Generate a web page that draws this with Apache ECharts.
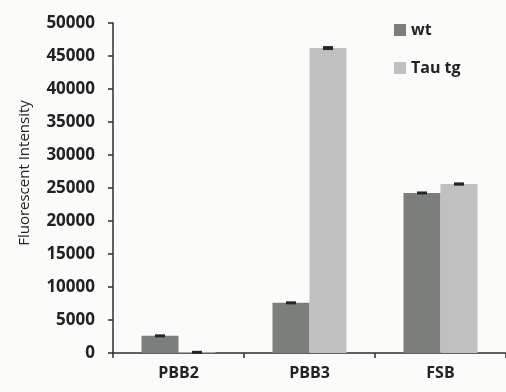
<!DOCTYPE html>
<html><head><meta charset="utf-8">
<script src="https://cdn.jsdelivr.net/npm/echarts@6/dist/echarts.min.js"></script>
<style>html,body{margin:0;padding:0;background:#fbfbf9;}#c{width:506px;height:392px;}</style>
</head><body><div id="c"></div>
<script>
var categories = ['PBB2', 'PBB3', 'FSB'];
var seriesNames = ['wt', 'Tau tg'];
var wtValues = [2600, 7600, 24250];
var tauValues = [100, 46200, 25600];
var wtErrors = [200, 150, 200];
var tauErrors = [80, 300, 250];
var yTicks = [0, 5000, 10000, 15000, 20000, 25000, 30000, 35000, 40000, 45000, 50000];

var chart = echarts.init(document.getElementById('c'));
var font = 'Open Sans';
var barW = 37;

function errSeries(values, errors, offset) {
  return {
    type: 'custom', silent: true, z: 5,
    data: values.map(function (v, i) { return [i, v, errors[i]]; }),
    renderItem: function (params, api) {
      var c = api.coord([api.value(0), api.value(1) + api.value(2)]);
      var c2 = api.coord([api.value(0), api.value(1) - api.value(2)]);
      var h = Math.max(3, c2[1] - c[1]);
      var cy = (c[1] + c2[1]) / 2;
      return { type: 'rect', shape: { x: c[0] + offset - 5, y: cy - h / 2, width: 10, height: h },
               style: { fill: '#1e2a2a' } };
    }
  };
}

chart.setOption({
  backgroundColor: '#fbfbf9',
  animation: false,
  grid: { left: 113, right: 0, top: 23, bottom: 39 },
  legend: {
    orient: 'vertical', left: 389, top: 17, itemWidth: 12, itemHeight: 12, itemGap: 22,
    icon: 'rect',
    textStyle: { fontFamily: font, fontSize: 16, fontWeight: 'bold', color: '#222', lineHeight: 12 },
    data: seriesNames
  },
  xAxis: {
    type: 'category', data: categories,
    axisLine: { lineStyle: { color: '#2a2f2f', width: 1.5 } },
    axisTick: { show: true, length: 5, lineStyle: { color: '#2a2f2f', width: 1.5 } },
    axisLabel: { fontFamily: font, fontSize: 16, fontWeight: 'bold', color: '#222', margin: 12 }
  },
  yAxis: {
    type: 'value', min: 0, max: 50000, interval: 5000,
    axisLine: { show: true, lineStyle: { color: '#2a2f2f', width: 1.5 } },
    axisTick: { show: true, length: 5, lineStyle: { color: '#2a2f2f', width: 1.5 } },
    splitLine: { show: false },
    axisLabel: { fontFamily: font, fontSize: 17, fontWeight: 'bold', color: '#222', margin: 18,
      formatter: function (v) { return yTicks.indexOf(v) >= 0 ? String(v) : ''; } }
  },
  graphic: [{
    type: 'text', x: 25, y: 173, rotation: Math.PI / 2,
    style: { text: 'Fluorescent Intensity', fontFamily: font, fontSize: 15, fill: '#222',
             textAlign: 'center', textVerticalAlign: 'middle' }
  }],
  series: [
    { name: seriesNames[0], type: 'bar', data: wtValues, barWidth: barW, barGap: '0%',
      itemStyle: { color: '#7c7e7c' } },
    { name: seriesNames[1], type: 'bar', data: tauValues, barWidth: barW, barGap: '0%',
      itemStyle: { color: '#bfc0bf' } },
    errSeries(wtValues, wtErrors, -barW / 2),
    errSeries(tauValues, tauErrors, barW / 2)
  ]
});
</script></body></html>
